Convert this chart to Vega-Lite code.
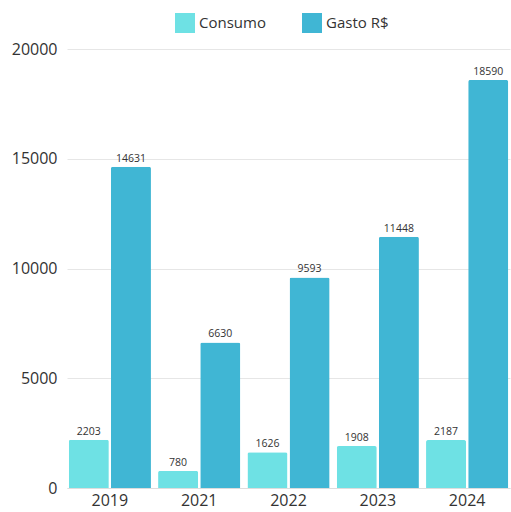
{
  "$schema": "https://vega.github.io/schema/vega-lite/v6.json",
  "width": 511,
  "height": 512,
  "autosize": {"type": "fit", "contains": "padding"},
  "padding": {"left": 11, "top": 41, "right": 1, "bottom": 4},
  "background": "white",
  "config": {
    "font": "Open Sans",
    "view": {"stroke": null}
  },
  "data": {
    "values": [
      {"ano": "2019", "serie": "Consumo", "valor": 2203},
      {"ano": "2019", "serie": "Gasto R$", "valor": 14631},
      {"ano": "2021", "serie": "Consumo", "valor": 780},
      {"ano": "2021", "serie": "Gasto R$", "valor": 6630},
      {"ano": "2022", "serie": "Consumo", "valor": 1626},
      {"ano": "2022", "serie": "Gasto R$", "valor": 9593},
      {"ano": "2023", "serie": "Consumo", "valor": 1908},
      {"ano": "2023", "serie": "Gasto R$", "valor": 11448},
      {"ano": "2024", "serie": "Consumo", "valor": 2187},
      {"ano": "2024", "serie": "Gasto R$", "valor": 18590}
    ]
  },
  "encoding": {
    "x": {
      "field": "ano", "type": "nominal", "title": null,
      "scale": {"paddingInner": 0.08, "paddingOuter": 0.02},
      "axis": {"labelAngle": 0, "labelFontSize": 16, "labelColor": "#333", "domain": true, "domainColor": "#ddd", "ticks": false, "labelPadding": 4}
    },
    "xOffset": {"field": "serie", "type": "nominal", "scale": {"paddingInner": 0.05}},
    "y": {
      "field": "valor", "type": "quantitative", "title": null,
      "scale": {"domain": [0, 20000]},
      "axis": {"values": [0, 5000, 10000, 15000, 20000], "format": "d", "labelFontSize": 16, "labelColor": "#333", "domain": false, "ticks": false, "gridColor": "#e6e6e6", "labelPadding": 10}
    }
  },
  "layer": [
    {
      "mark": {"type": "bar", "cornerRadiusTopLeft": 2, "cornerRadiusTopRight": 2},
      "encoding": {
        "color": {
          "field": "serie", "type": "nominal", "title": null,
          "scale": {"domain": ["Consumo", "Gasto R$"], "range": ["#6ee1e4", "#40b6d4"]},
          "legend": {"orient": "none", "legendX": 108, "legendY": -36, "direction": "horizontal", "symbolType": "square", "symbolSize": 400, "symbolStrokeWidth": 0, "labelFontSize": 15, "labelColor": "#333", "columnPadding": 36}
        }
      }
    },
    {
      "mark": {"type": "text", "dy": -8, "fontSize": 10.5, "color": "#333"},
      "encoding": {
        "text": {"field": "valor", "type": "quantitative", "format": "d"}
      }
    }
  ]
}
